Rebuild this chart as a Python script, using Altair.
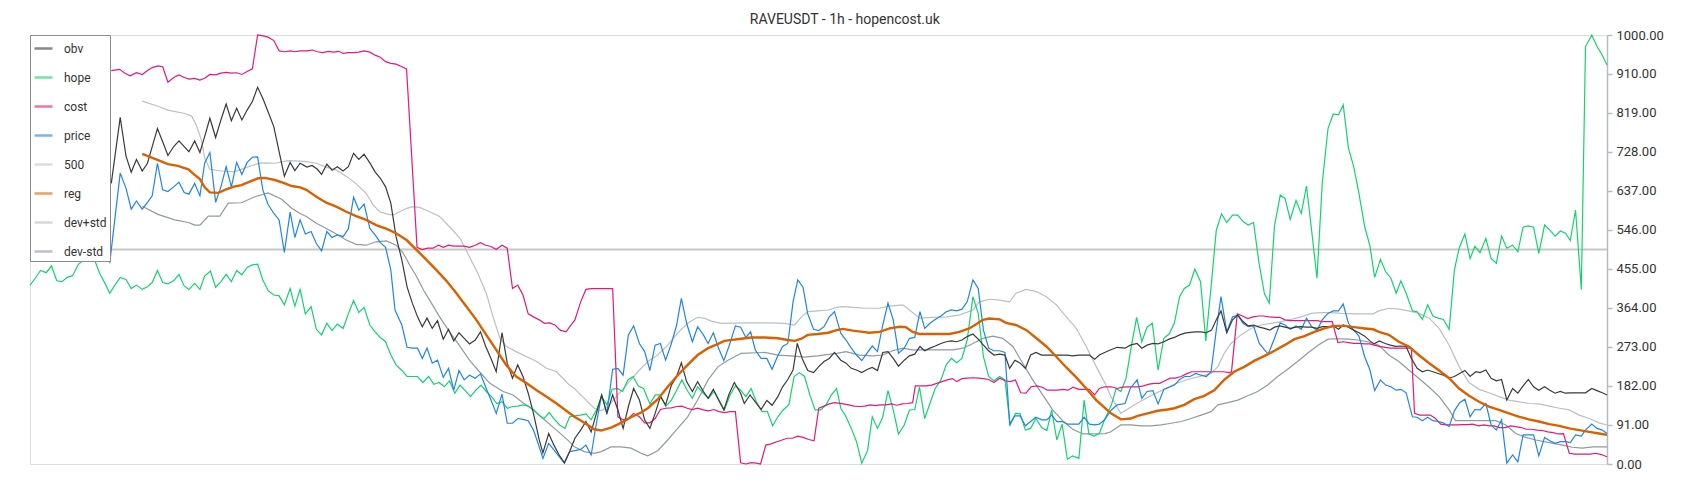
import altair as alt
import pandas as pd

TITLE = "RAVEUSDT - 1h - hopencost.uk"
series_names = ["obv", "hope", "cost", "price", "500", "reg", "dev+std", "dev-std"]
series_colors = ["#3a3a3a", "#14d36f", "#e6177d", "#1f86e3", "#c8c8c8", "#da6000", "#b9c0c6", "#8e9aa3"]
y_ticks = [0, 91, 182, 273, 364, 455, 546, 637, 728, 819, 910, 1000]

hope_pts = [
    (0, 417), (1, 433), (2, 451), (3.1, 446), (4.1, 462), (5.1, 427), (6.1, 425), (7.1, 435), (8.1, 439),
    (9.2, 465), (10.2, 476), (11.2, 483), (12.3, 476), (13.3, 444), (14.3, 421), (15.2, 398), (16.2, 417),
    (17.2, 435), (18.3, 430), (19.3, 409), (20.3, 417), (21.4, 407), (22.4, 413), (23.3, 423), (24.3, 451),
    (25.3, 423), (26.3, 420), (27.4, 427), (28.4, 442), (29.4, 415), (30.3, 407), (31.4, 421), (32.4, 407),
    (33.3, 438), (34.4, 450), (35.4, 412), (36.4, 425), (37.4, 442), (38.4, 425), (39.4, 451), (40.4, 441),
    (41.4, 458), (42.4, 464), (43.4, 466), (44.4, 429), (45.4, 404), (46.5, 394), (47.5, 392), (48.5, 371),
    (49.6, 409), (50.5, 368), (51.5, 407),
    (52.5, 350), (53.6, 367), (54.6, 314), (55.6, 301), (56.6, 328), (57.6, 311), (58.6, 326), (59.7, 316),
    (60.7, 350), (61.7, 381), (62.7, 353), (63.7, 365), (64.8, 324), (65.8, 308), (66.8, 295), (67.8, 285),
    (68.8, 254), (69.8, 231), (70.9, 218), (71.9, 204), (72.9, 204), (73.9, 204), (74.9, 190), (76, 204),
    (77, 186), (78, 190), (79, 180), (80, 194), (81, 165), (82, 184), (83, 171), (84, 157), (85, 172),
    (86, 184), (87, 169), (88, 157), (89, 141), (90, 145), (91, 130), (92, 134), (93, 135), (94, 138),
    (95, 135), (96, 127), (97, 114), (98, 106), (99, 120), (100, 104), (101, 91), (102, 83),
    (102.9, 110), (103.9, 112), (105, 114), (106, 117), (107, 103), (108, 126), (109, 157), (110, 138),
    (111, 174), (112, 176), (113, 169), (114, 196), (115, 204), (116, 182), (117, 176), (118.2, 140),
    (119.2, 161), (120.2, 161), (121.2, 134), (122.3, 149), (123.3, 172), (124.3, 196), (125.3, 172),
    (126.3, 153), (127.3, 180), (128.4, 165), (129.4, 153), (130.4, 169), (131.4, 149), (132.4, 126),
    (133.5, 161), (134.5, 182), (135.5, 172), (136.5, 157), (137.5, 176), (138.5, 145), (139.6, 122),
    (140.6, 122), (141.6, 89), (142.6, 110), (143.6, 126), (144.7, 138), (145.7, 204), (146.7, 213),
    (147.7, 204), (148.7, 161), (149.7, 126), (150.8, 126), (151.8, 138), (152.8, 161), (153.8, 176),
    (154.6, 130), (155.6, 110), (156.6, 83), (157.6, 52), (158.6, 2), (159.7, 31), (160.6, 110), (161.6, 83),
    (162.6, 109), (163.6, 171), (164.6, 126), (165.6, 70), (166.7, 91), (167.7, 126), (168.7, 127),
    (169.6, 179), (170.6, 106), (171.6, 141), (172.6, 176), (173.7, 196), (174.7, 231), (175.7, 246),
    (176.7, 236), (177.7, 246), (178.7, 289), (179.8, 390), (180.8, 351), (181.8, 250), (182.8, 204),
    (183.8, 194), (184.9, 204), (185.9, 196), (186.9, 91), (187.9, 118), (188.8, 117), (189.8, 79),
    (190.8, 83), (191.8, 106), (192.9, 85), (193.9, 78), (194.8, 126), (195.8, 56), (196.8, 93), (197.8, 11),
    (198.8, 19), (200, 13), (201, 149), (201.9, 70), (202.9, 65), (203.9, 71), (204.9, 103),
    (206.2, 138), (207.1, 176), (208, 169), (209, 200), (210, 274), (211, 342), (212, 285), (213, 319),
    (214, 328), (215.1, 219), (216.2, 293), (217.2, 303), (218.2, 328), (219.2, 390), (220.1, 409),
    (221.1, 417), (222.1, 454), (223.2, 425), (224.2, 287), (225.2, 413), (226.2, 545), (227.2, 583),
    (228.2, 563), (229.3, 580), (230.3, 580), (231.3, 565), (232.3, 557), (233.3, 563), (234.4, 464),
    (235.4, 396), (236.3, 375), (237.3, 555), (238.4, 627), (239.3, 619), (240.3, 570), (241.4, 614),
    (242.4, 584), (243.4, 648), (244.4, 542), (245.4, 433), (246.4, 654), (247.5, 782), (248.5, 816),
    (249.5, 814), (250.4, 837), (251.4, 736), (252.4, 693), (253.4, 631), (254.5, 553), (255.5, 508),
    (256.4, 435), (257.5, 477), (258.5, 448), (259.5, 433), (260.5, 398), (261.4, 427), (262.4, 398),
    (263.6, 357), (264.5, 355), (265.5, 337), (266.5, 371), (267.5, 345), (268.5, 340), (269.5, 337),
    (270.6, 314), (271.6, 452), (272.5, 503), (273.6, 536), (274.6, 479), (275.5, 507), (276.5, 493),
    (277.6, 526), (278.6, 479), (279.6, 468), (280.6, 531), (281.6, 503), (282.7, 510), (283.7, 495),
    (284.7, 552), (285.7, 555), (286.7, 552), (287.7, 491), (288.8, 557), (289.8, 545), (290.8, 531),
    (291.8, 543), (292.8, 538), (293.7, 521), (294.7, 592), (295.8, 407), (296.6, 973), (297.8, 1000),
    (298.8, 973), (299.8, 953), (300.7, 930),
]

price_pts = [
    (15.2, 468), (17.2, 678), (18.3, 643), (19.3, 594), (20.3, 613), (21.4, 594), (22.4, 610), (23.3, 625),
    (24.3, 701), (25.3, 639), (26.3, 635), (27.4, 646), (28.4, 657), (29.4, 633), (30.3, 629), (31.4, 654),
    (32.4, 625), (33.3, 701), (34.3, 726), (35.4, 610), (36.4, 646), (37.4, 693), (38.4, 646), (39.4, 703),
    (40.4, 675), (41.4, 703), (42.4, 715), (43.4, 716), (44.4, 639), (45.4, 605), (46.5, 584), (47.5, 569),
    (48.5, 493), (49.6, 587), (50.5, 528), (51.5, 569),
    (52.5, 536), (53.6, 542), (54.6, 514), (55.6, 497), (56.6, 542), (57.6, 528), (58.6, 534), (59.7, 530),
    (60.7, 548), (61.7, 622), (62.7, 592), (63.7, 606), (64.8, 549), (65.8, 534), (66.8, 516), (67.8, 505),
    (68.8, 452), (69.6, 359), (70.9, 324), (71.9, 272), (72.9, 270), (73.9, 270), (74.8, 246), (75.7, 270),
    (76.7, 235), (77.7, 242), (78.8, 202), (79.8, 223), (80.8, 172), (81.8, 218), (82.8, 196), (83.8, 207),
    (84.9, 200), (85.9, 210), (86.9, 179), (87.9, 149), (88.9, 118), (90, 163), (91, 95), (92, 95), (93, 106),
    (94, 104), (95, 101), (96, 79), (97.1, 40), (97.8, 13), (98.9, 48), (99.9, 33), (100.9, 17), (101.9, 2),
    (102.9, 29), (103.9, 31), (105, 34), (106, 44), (107, 21), (108, 95), (109, 161), (110, 118),
    (111.1, 221), (112.1, 223), (113.1, 207), (114.1, 301), (115.1, 322), (116.2, 281), (117.2, 262),
    (118.2, 218), (119.2, 277), (120.2, 281), (121.2, 242), (122.3, 281), (123.3, 324), (124.2, 386),
    (125.2, 328), (126.3, 285), (127.3, 320), (128.4, 301), (129.3, 281), (130.3, 306), (131.3, 270),
    (132.3, 241), (133.3, 275), (134.5, 322), (135.5, 319), (136.5, 295), (137.4, 308), (138.3, 266),
    (139.4, 246), (140.5, 246), (141.5, 221), (142.5, 250), (143.5, 274), (144.5, 281), (145.5, 378),
    (146.4, 429), (147.4, 412), (148.3, 350), (149.4, 314), (150.4, 311), (151.4, 320), (152.4, 343),
    (153.4, 355),
    (154.6, 305), (155.6, 289), (156.6, 270), (157.6, 254), (158.6, 241), (159.7, 260), (160.6, 275),
    (161.6, 262), (162.6, 324), (163.6, 375), (164.6, 336), (165.6, 258), (166.7, 270), (167.7, 293),
    (168.7, 295), (169.7, 355), (170.6, 316), (171.6, 328), (172.6, 337), (173.7, 345), (174.7, 355),
    (175.7, 359), (176.7, 357), (177.7, 361), (178.7, 378), (179.8, 429), (180.8, 409), (181.8, 312),
    (182.8, 270), (183.8, 264), (184.9, 264), (185.9, 260), (186.8, 93), (187.8, 112), (188.8, 112),
    (189.8, 89), (190.8, 99), (191.8, 109), (192.9, 103), (193.9, 103), (194.8, 114), (195.8, 99),
    (196.8, 99), (197.8, 93), (198.8, 93), (200, 93), (201, 109), (202, 93), (203, 91), (203.9, 93),
    (204.9, 103),
    (206.2, 126), (207.3, 138), (208.8, 141), (209.8, 176), (211.1, 196), (212, 153), (213, 169),
    (214.1, 171), (215.1, 140), (216.2, 174), (217.2, 179), (218.2, 184), (219.2, 197), (220.2, 204),
    (221.2, 204), (222.3, 211), (223.3, 207), (224.3, 204), (225.2, 215), (226.2, 312), (227.1, 390),
    (228.2, 308), (229.3, 343), (230.3, 347), (231.3, 328), (232.3, 320), (233.3, 322), (234.4, 281),
    (235.4, 266), (236.1, 256), (237.3, 293), (238.4, 329), (239.3, 324), (240.3, 314), (241.4, 322),
    (242.4, 314), (243.4, 340), (244.4, 320), (245.4, 312), (246.4, 336), (247.5, 351), (248.5, 357),
    (249.5, 357), (250.4, 373), (251.4, 328), (252.4, 312), (253.4, 298), (254.5, 250), (255.5, 219),
    (256.4, 171), (257.5, 196), (258.5, 184), (259.5, 180), (260.5, 172), (261.4, 174), (262.4, 166),
    (263.6, 110), (264.5, 109), (265.5, 101), (266.5, 109), (267.5, 101), (268.5, 99), (269.5, 96),
    (270.6, 87), (271.6, 124), (272.6, 143), (273.6, 151), (274.6, 110), (275.5, 127), (276.5, 126),
    (277.6, 141), (278.6, 91), (279.6, 79), (280.6, 103), (281.6, 2), (282.7, 21), (283.7, 5), (284.7, 68),
    (285.7, 68), (286.7, 68), (287.7, 19), (288.8, 62), (289.8, 54), (290.8, 48), (291.8, 52), (292.8, 52),
    (293.7, 50), (294.7, 68), (295.8, 65), (296.6, 79), (297.8, 93), (298.8, 83), (299.8, 79), (300.7, 71),
]

cost_pts = [
    (15.5, 917), (17.1, 920), (18.1, 911), (19.1, 905), (20.3, 912), (21.4, 908), (22.4, 917), (23.3, 924),
    (24.4, 928), (25.3, 926), (26.3, 890), (27.4, 901), (28.4, 907), (29.4, 901), (30.4, 897), (31.4, 899),
    (32.4, 895), (33.3, 899), (34.3, 908), (35.4, 907), (36.4, 911), (37.4, 913), (38.4, 911), (39.4, 912),
    (40.4, 908), (41.4, 915), (42.4, 921), (43.4, 1000), (44.4, 998), (45.4, 995), (46.5, 987), (47.5, 963),
    (48.5, 961), (49.6, 963), (50.5, 961), (51.5, 963),
    (52.8, 963), (53.8, 965), (54.8, 961), (55.8, 959), (56.9, 962), (57.9, 960), (58.9, 962), (59.7, 957),
    (60.7, 959), (61.7, 959), (62.7, 960), (63.7, 963), (64.8, 960), (65.8, 953), (66.8, 948), (67.8, 938),
    (68.8, 934), (69.8, 932), (70.9, 926), (71.8, 921), (73.8, 505), (74.8, 500), (75.8, 503), (76.8, 503),
    (77.9, 510), (78.8, 505), (79.8, 510), (80.8, 508), (81.8, 508), (82.8, 508), (83.8, 505), (84.9, 510),
    (85.9, 516), (86.9, 510), (87.9, 507), (88.9, 500), (90, 510), (91, 503), (92, 409), (93, 417), (94, 394),
    (95, 350), (96, 343), (97.1, 336), (98.1, 328), (99.1, 329), (100.1, 324), (101.1, 312), (102.2, 308),
    (103.9, 336), (105, 378), (106, 407), (107, 409), (108, 409), (109, 409), (110, 409), (111.1, 409),
    (112.1, 110), (113.1, 103), (114.1, 106), (115.1, 118), (116.2, 110), (117.2, 96), (118.2, 96),
    (119.2, 106), (120.2, 127), (121.2, 130), (122.3, 131), (123.3, 134), (124.3, 135), (125.3, 130),
    (126.3, 127), (127.3, 130), (128.4, 126), (129.4, 124), (130.4, 127), (131.4, 122), (132.4, 120),
    (133.5, 122), (134.5, 122), (135.5, 3), (136.5, 0), (137.5, 3), (138.5, 2), (139.3, 0), (140.3, 44),
    (141.3, 47), (142.4, 52), (143.4, 56), (144.4, 60), (145.4, 60), (146.4, 65), (147.4, 62), (148.5, 57),
    (149.5, 54), (150.4, 130), (151.4, 135), (152.4, 140), (153.4, 143),
    (155.1, 140), (156.1, 138), (157.1, 135), (158.1, 134), (159.2, 135), (160.2, 138), (161.2, 136),
    (162.2, 138), (163.2, 138), (164.2, 140), (165.3, 137), (166.3, 140), (167.3, 141), (168.3, 143),
    (168.8, 182), (169.8, 182), (170.9, 182), (171.9, 184), (172.9, 188), (173.9, 192), (174.9, 196),
    (175.9, 199), (176.7, 192), (177.7, 199), (178.7, 200), (179.8, 201), (180.8, 200), (181.8, 199),
    (182.8, 197), (183.8, 190), (184.9, 200), (185.9, 194), (186.9, 192), (187.9, 196), (188.9, 166),
    (189.9, 165), (190.9, 180), (192, 182), (193, 179), (194, 172), (195, 172), (196, 172), (196.9, 174),
    (197.9, 172), (198.9, 179), (200, 174), (201, 174), (202, 174), (203, 161), (203.9, 176), (204.9, 180),
    (206.2, 180), (207.3, 176), (208.3, 179), (209.3, 180), (210.3, 180), (211.3, 180), (212.3, 182),
    (213.4, 186), (214.4, 188), (215.4, 188), (216.4, 194), (217.4, 200), (218.4, 200), (219.5, 204),
    (220.5, 210), (221.5, 215), (222.5, 215), (223.5, 215), (224.6, 215), (225.6, 215), (226.6, 215),
    (227.6, 215), (228.6, 213), (229.1, 215), (230.2, 350), (231.2, 345), (232.2, 339), (233.2, 343),
    (234.2, 345), (235.2, 345), (236.3, 343), (237.3, 342), (238.3, 342), (239.3, 336), (240.3, 334),
    (241.4, 334), (242.4, 334), (243.4, 334), (244.4, 334), (245.4, 334), (246.4, 332), (247.5, 332),
    (248.3, 332), (249.4, 283), (250.4, 285), (251.4, 283), (252.4, 281), (253.4, 281), (254.5, 280),
    (255.5, 280), (256.3, 277), (257.3, 274), (258.4, 272), (259.4, 270), (260.4, 270), (261.4, 270),
    (262.4, 270), (263.4, 270), (264, 118), (265, 114), (266, 114), (267, 114), (268, 106), (269, 93),
    (270, 91), (271.1, 91), (272.1, 91), (273.1, 92), (274.1, 92), (275.1, 93), (276.2, 89), (277.2, 91),
    (278.2, 89), (279.2, 89), (280.2, 85), (281.3, 85), (282.3, 89), (283.3, 87), (284.3, 85), (285.3, 81),
    (286.3, 81), (287.4, 79), (288.4, 78), (289.4, 75), (290.4, 73), (291.4, 70), (292.4, 71), (293.5, 25),
    (294.5, 23), (295.5, 23), (296.5, 23), (297.5, 23), (298.6, 25), (299.6, 22), (300.7, 17),
]

obv_pts = [
    (15.5, 654), (17.2, 808), (18.3, 718), (19.3, 680), (20.3, 710), (21.4, 683), (22.4, 701), (23.3, 740),
    (24.3, 782), (25.3, 751), (26.3, 719), (27.4, 740), (28.4, 753), (29.4, 740), (30.3, 728), (31.4, 753),
    (32.4, 726), (33.3, 763), (34.3, 806), (35.4, 761), (36.4, 802), (37.4, 839), (38.4, 800), (39.4, 829),
    (40.4, 802), (41.4, 825), (42.4, 845), (43.4, 878), (44.4, 852), (45.4, 821), (46.5, 786), (47.5, 728),
    (48.5, 671), (49.6, 703), (50.5, 684), (51.5, 701),
    (52.8, 692), (53.8, 696), (54.8, 687), (55.6, 675), (56.6, 699), (57.6, 685), (58.6, 693), (59.7, 683),
    (60.7, 693), (61.7, 724), (62.7, 710), (63.7, 722), (64.8, 702), (65.8, 681), (66.8, 666), (67.8, 646),
    (68.8, 608), (69.8, 530), (70.9, 476), (71.9, 413), (72.9, 375), (73.9, 343), (74.8, 320), (75.7, 340),
    (76.7, 316), (77.7, 334), (78.8, 291), (79.8, 314), (80.8, 287), (81.8, 306), (82.8, 293), (83.8, 280),
    (84.9, 289), (85.9, 308), (86.9, 274), (87.9, 246), (88.9, 215), (90, 306), (91, 235), (92, 200),
    (93, 231), (94, 204), (95, 165), (96, 118), (97.1, 56), (97.8, 26), (98.9, 71), (99.9, 44), (100.9, 21),
    (101.9, 3),
    (102.9, 29), (103.9, 60), (105, 79), (106, 99), (107, 75), (108, 118), (109, 161), (110, 118),
    (111.1, 161), (112.1, 126), (113.1, 83), (114.1, 134), (115.1, 176), (116.2, 149), (117.2, 103),
    (118.2, 83), (119.2, 118), (120.2, 157), (121.2, 138), (122.3, 184), (123.3, 204), (124.2, 236),
    (125.2, 192), (126.3, 169), (127.3, 192), (128.4, 169), (129.3, 153), (130.3, 174), (131.3, 149),
    (132.3, 126), (133.3, 163), (134.3, 190), (135.5, 165), (136.2, 141), (137.3, 161), (138.3, 145),
    (139.4, 127), (140.5, 148), (141.5, 137), (142.6, 157), (143.5, 180), (144.5, 197), (145.5, 219),
    (146.3, 281), (147.3, 244), (148.3, 218), (149.4, 213), (150.4, 227), (151.4, 239), (152.4, 246),
    (153.4, 260),
    (154.6, 242), (155.6, 235), (156.6, 223), (157.6, 219), (158.6, 213), (159.7, 221), (160.6, 225),
    (161.6, 218), (162.6, 260), (163.6, 262), (164.6, 246), (165.6, 228), (166.7, 242), (167.7, 252),
    (168.7, 256), (169.7, 274), (170.6, 264), (171.6, 270), (172.6, 275), (173.7, 281), (174.7, 285),
    (175.7, 287), (176.7, 285), (177.7, 289), (178.7, 297), (179.8, 303), (180.8, 291), (181.8, 277),
    (182.8, 264), (183.8, 254), (184.9, 256), (185.9, 254), (186.8, 223), (187.8, 242), (188.8, 235),
    (189.8, 223), (190.8, 254), (191.8, 260), (192.9, 254), (193.9, 254), (194.8, 254), (195.8, 254),
    (196.8, 254), (197.8, 254), (198.8, 252), (200, 254), (201, 254), (202, 254), (203, 244), (203.9, 254),
    (204.9, 260),
    (206.2, 267), (207.3, 272), (208.8, 270), (209.8, 277), (211.1, 281), (212, 270), (213, 277),
    (214.1, 281), (215.1, 280), (216.2, 285), (217.2, 291), (218.2, 295), (219.2, 301), (220.2, 305),
    (221.2, 307), (222.3, 308), (223.3, 308), (224.3, 306), (225.3, 312), (226.2, 336), (227.1, 357),
    (228.2, 306), (229.3, 336), (230.3, 347), (231.3, 332), (232.3, 322), (233.3, 324), (234.4, 319),
    (235.4, 316), (236.4, 312), (237.3, 319), (238.3, 322), (239.3, 319), (240.3, 316), (241.4, 319),
    (242.4, 320), (243.4, 319), (244.4, 319), (245.4, 316), (246.4, 320), (247.5, 320), (248.5, 322),
    (249.5, 314), (250.4, 324), (251.4, 319), (252.4, 312), (253.4, 306), (254.5, 298), (255.5, 287),
    (256.3, 280), (257.3, 287), (258.4, 281), (259.4, 277), (260.4, 274), (261.4, 275), (262.4, 274),
    (263.4, 246), (264.5, 223), (265.5, 215), (266.5, 219), (267.5, 215), (268.5, 211), (269.5, 207),
    (270.6, 200), (271.6, 204), (272.6, 211), (273.6, 218), (274.6, 204), (275.7, 215), (276.5, 213),
    (277.6, 219), (278.6, 200), (279.6, 194), (280.6, 197), (281.6, 149), (282.7, 176), (283.7, 165),
    (284.7, 182), (285.7, 197), (286.7, 180), (287.7, 172), (288.8, 180), (289.8, 172), (290.8, 165),
    (291.8, 169), (292.8, 165), (293.7, 166), (294.7, 166), (295.8, 166), (296.6, 166), (297.8, 176),
    (298.8, 171), (299.8, 166), (300.7, 161),
]

reg_pts = [
    (21.4, 723), (24.3, 709), (26.3, 699), (28.2, 695), (30.2, 687), (31.4, 674), (32.4, 664), (33.3, 645),
    (34.3, 633), (35.9, 632), (37.4, 640), (38.7, 646), (40.3, 650), (41.9, 658), (43.5, 666), (44.8, 667),
    (46.7, 662), (48.6, 654), (49.9, 648), (51.5, 645), (52.7, 639), (54.6, 623), (56.5, 609), (58.4, 600),
    (60.3, 588), (62.2, 578), (64.1, 569), (66, 557), (68, 548), (69.8, 538), (71.8, 522), (73.7, 499),
    (75.6, 476), (77.5, 452), (79.4, 427), (81.3, 398), (83.2, 367), (85.1, 336), (87, 301), (88.9, 266),
    (90.8, 231), (92.7, 204), (94.7, 188), (96.6, 172), (98.5, 157), (100.4, 141), (102.7, 120), (103.8, 110),
    (105.7, 96), (107.6, 81), (108.9, 78), (110.8, 85), (112.7, 96), (114.6, 109), (116.5, 120), (117.8, 130),
    (119.7, 151), (121.6, 180), (123.5, 207), (125.4, 231), (127.3, 254), (129.3, 270), (131.2, 280),
    (132.4, 287), (135.6, 292), (137.5, 295), (140.1, 295), (142.6, 293), (144.5, 289), (145.8, 287),
    (147.1, 292), (148.3, 301), (150.2, 303), (152.2, 306), (153.8, 312), (155, 315), (156.9, 311),
    (158.8, 308), (160, 306), (162, 308), (163.9, 316), (165.8, 320), (167, 319), (168.3, 308), (169.6, 303),
    (171.5, 303), (173.4, 303), (175.3, 303), (177.2, 308), (179.1, 316), (180.4, 326), (181.7, 336),
    (182.9, 339), (184.9, 337), (186.1, 329), (188, 324), (190, 312), (191.9, 293), (193.8, 274), (195.7, 250),
    (197.6, 225), (199.5, 202), (201.4, 176), (203.3, 149), (205, 130), (206.1, 118), (208, 104), (209.9, 106),
    (211.2, 112), (213.1, 118), (215, 124), (216.9, 127), (218.2, 130), (220.1, 138), (222, 151), (223.9, 159),
    (225.8, 172), (227.7, 196), (229.6, 215), (231.6, 227), (233.5, 241), (235.4, 252), (237.3, 264),
    (239.2, 277), (241.1, 291), (243, 298), (244.9, 308), (246.8, 316), (248.7, 322), (250.6, 322),
    (252.5, 319), (254.5, 316), (256.1, 314), (257.2, 308), (259.1, 301), (261, 285), (262.9, 274),
    (264.8, 254), (266.8, 235), (268.7, 218), (270.6, 200), (272.5, 176), (274.4, 159), (276.3, 145),
    (278.2, 134), (280.1, 126), (282, 118), (284, 110), (285.8, 104), (287.7, 99), (289.7, 93), (291.6, 89),
    (293.5, 83), (295.4, 79), (297.3, 75), (299.2, 71), (300.7, 68),
]

dev_plus_pts = [
    (21.4, 846), (24.4, 834), (26.3, 825), (29.5, 817), (30.8, 811), (31.7, 790), (32.7, 755), (33.3, 713),
    (34.3, 687), (36.5, 683), (39, 681), (41.6, 693), (44.1, 702), (46.7, 701), (49.2, 707), (51.5, 706),
    (52.7, 705), (54.6, 701), (56.5, 692), (58.4, 685), (60.3, 671), (62.2, 653), (64.1, 631), (65.4, 604),
    (66.7, 588), (68, 583), (69.2, 580), (70.5, 588), (71.8, 596), (73, 600), (74.3, 598), (76.2, 588),
    (78.1, 577), (80, 553), (82, 526), (83.8, 483), (85.4, 444), (87, 398), (88.3, 343), (89.6, 293),
    (90.8, 274), (92.7, 262), (94.7, 250), (96.6, 239), (98.5, 223), (100.4, 215), (102.7, 186), (103.8, 176),
    (105.7, 153), (107.6, 130), (108.9, 124), (110.2, 134), (112.1, 161), (114, 188), (115.9, 215),
    (117.8, 239), (119.7, 254), (121.6, 277), (123.5, 305), (125.4, 328), (127.3, 342), (128.6, 340),
    (129.9, 333), (131.8, 328), (136.2, 329), (141.3, 329), (143.9, 328), (145.8, 324), (147.1, 343),
    (148.3, 355), (150.2, 357), (152.2, 359), (153.8, 365), (155, 367), (156.9, 365), (159.4, 363),
    (161.9, 363), (163.9, 368), (166.4, 371), (167.7, 359), (169.6, 340), (172.1, 342), (174.7, 343),
    (177.2, 347), (179.8, 359), (181, 378), (182.9, 384), (184.9, 382), (186.8, 378), (188, 398), (189.9, 407),
    (191.9, 402), (193.8, 390), (195.7, 371), (197.6, 343), (199.5, 316), (201.4, 274), (203.3, 227),
    (205, 188), (206.1, 157), (208, 118), (210.6, 138), (213.1, 155), (215.7, 171), (218.2, 186), (220.7, 197),
    (223.3, 205), (225.2, 211), (226.5, 227), (227.7, 258), (229, 281), (230.9, 301), (232.8, 316),
    (234.7, 324), (236.6, 328), (238.6, 332), (240.5, 337), (242.4, 343), (244.3, 351), (246.2, 353),
    (248.1, 353), (250, 351), (252.5, 350), (256.1, 350), (257.2, 357), (259.1, 363), (261, 361), (262.9, 357),
    (264.8, 351), (266.8, 340), (268.7, 316), (270.6, 277), (272.5, 227), (274.4, 190), (276.3, 174),
    (278.2, 166), (280.1, 157), (282, 149), (284, 145), (285.8, 141), (287.7, 140), (289.7, 135), (291.6, 130),
    (293.5, 126), (295.4, 114), (297.3, 106), (299.2, 96), (300.7, 91),
]

dev_minus_pts = [
    (21.4, 601), (24.4, 582), (27.6, 569), (30.2, 563), (31.4, 557), (32.4, 557), (34, 578), (36.2, 578),
    (37.8, 608), (40.3, 609), (42.9, 623), (45.4, 632), (48, 617), (49.9, 596), (51.5, 584), (52.7, 577),
    (54.6, 561), (56.5, 549), (58.4, 536), (60.3, 522), (62.2, 512), (64.1, 510), (66, 518), (68, 520),
    (69.8, 510), (71.1, 493), (72.4, 464), (73.7, 437), (75, 406), (76.2, 382), (78.1, 343), (80, 308),
    (82, 274), (83.8, 242), (85.7, 215), (87.7, 188), (90.2, 169), (92.1, 161), (94, 143), (96, 126),
    (97.8, 106), (100.4, 79), (102.7, 54), (103.8, 40), (105.7, 29), (107.6, 25), (108.9, 29), (110.8, 40),
    (112.7, 40), (114.6, 37), (116.5, 25), (117.8, 19), (119.7, 31), (121.6, 56), (123.5, 83), (125.4, 110),
    (127.3, 149), (129.3, 196), (131.2, 227), (133.1, 242), (135.6, 258), (140.1, 260), (142.6, 254),
    (145.2, 252), (147.7, 249), (150.2, 252), (153.8, 258), (155.6, 262), (158.1, 254), (160.7, 252),
    (162.6, 254), (164.5, 264), (166.4, 270), (168.3, 266), (173.4, 266), (176, 266), (177.9, 270),
    (179.8, 281), (181.7, 293), (183.6, 298), (185.5, 293), (187.4, 274), (189.3, 235), (191.2, 196),
    (193.1, 161), (195, 126), (196.9, 101), (198.8, 81), (200.8, 70), (205, 71), (206.1, 75), (208, 91),
    (209.9, 91), (211.8, 89), (213.7, 89), (215.7, 91), (217.6, 95), (219.5, 99), (221.4, 106), (223.3, 114),
    (225.2, 122), (226.5, 138), (228.4, 143), (230.3, 149), (232.2, 159), (234.1, 169), (236, 184),
    (237.9, 204), (239.8, 221), (241.7, 239), (243.6, 258), (245.6, 277), (247.5, 291), (249.4, 292),
    (251.3, 291), (253.2, 289), (255.1, 285), (257.2, 277), (259.1, 254), (261, 239), (262.9, 219),
    (264.8, 200), (266.8, 179), (268.7, 157), (270.6, 126), (271.8, 101), (274.4, 101), (276.9, 101),
    (279.5, 101), (281.4, 91), (283.3, 71), (285.2, 62), (287.1, 56), (289.7, 50), (292.2, 44), (294.1, 39),
    (296, 37), (298, 40), (300.7, 40),
]

level_500_pts = [(0, 500), (300.7, 500)]


def frame(name, pts):
    return pd.DataFrame({"t": [p[0] for p in pts], "v": [p[1] for p in pts], "series": name})


x_enc = alt.X("t:Q", scale=alt.Scale(domain=[0, 300.7], nice=False, zero=False), axis=None)
y_enc = alt.Y(
    "v:Q",
    scale=alt.Scale(domain=[0, 1000], nice=False, zero=False),
    axis=alt.Axis(
        orient="right", values=y_ticks, format=".2f", title=None, grid=False,
        domainColor="#b3bbc2", domainWidth=1.5, tickColor="#b3bbc2", tickWidth=1.5, tickSize=5,
        labelFontSize=13, labelColor="#333333", labelFont="Roboto", labelPadding=4, labelFlush=False,
    ),
)
color_enc = alt.Color(
    "series:N",
    scale=alt.Scale(domain=series_names, range=series_colors),
    legend=alt.Legend(
        title=None, orient="none", legendX=0, legendY=0,
        symbolType="stroke", symbolSize=324, symbolStrokeWidth=2.5, symbolOpacity=0.6,
        labelOffset=10,
        labelFontSize=12, labelFont="Roboto", labelColor="#333333",
        fillColor="#ffffff", strokeColor="#8c8c8c", padding=3, rowPadding=12, cornerRadius=0, zindex=1,
    ),
)


def layer(name, pts, width):
    return alt.Chart(frame(name, pts)).mark_line(strokeWidth=width).encode(x=x_enc, y=y_enc, color=color_enc)


chart = alt.layer(
    layer("500", level_500_pts, 1.8),
    layer("dev+std", dev_plus_pts, 1.2),
    layer("dev-std", dev_minus_pts, 1.2),
    layer("hope", hope_pts, 1.2),
    layer("cost", cost_pts, 1.2),
    layer("price", price_pts, 1.2),
    layer("obv", obv_pts, 1.2),
    layer("reg", reg_pts, 2.4),
).properties(
    width=1577,
    height=429,
    title=alt.TitleParams(TITLE, fontSize=14, font="Roboto", fontWeight="normal", color="#333333",
                          anchor="middle", frame="bounds", offset=2),
    padding={"left": 22, "top": 27, "right": 70, "bottom": 20},
    autosize=alt.AutoSizeParams(type="none"),
).configure_view(strokeWidth=0).configure_legend(strokeWidth=2).configure(background="#ffffff")

chart.save("out.html", embed_options={"renderer": "svg", "actions": False})
